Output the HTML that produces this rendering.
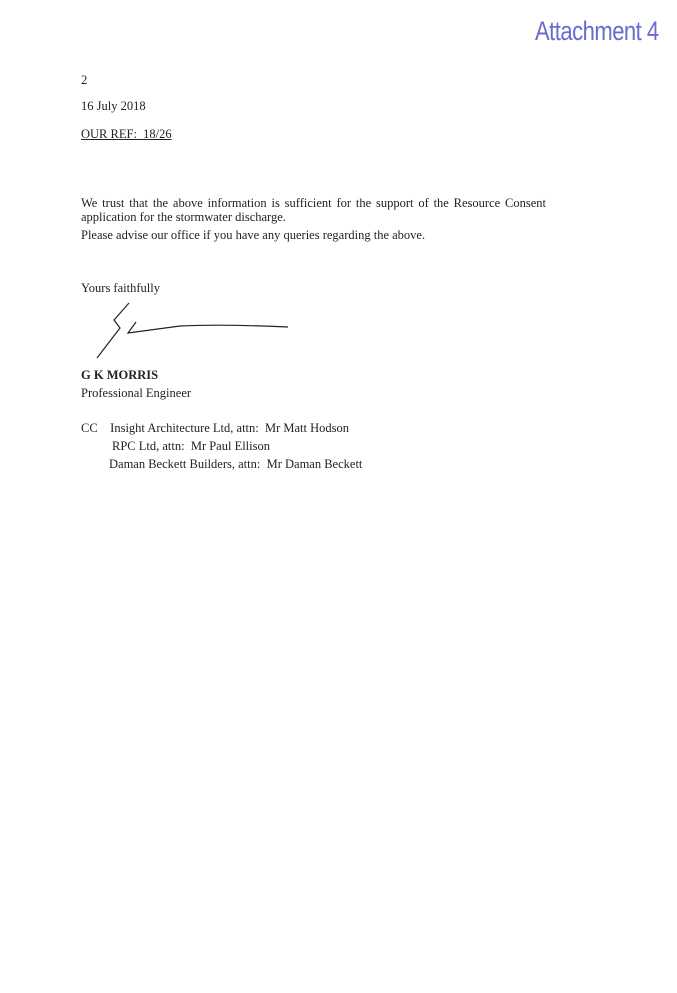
<!DOCTYPE html>
<html><head><meta charset="utf-8"><style>
body{margin:0;width:677px;height:993px;background:#fff;position:relative;overflow:hidden;font-family:"Liberation Serif",serif;font-size:12.5px;color:#222;}
.t{position:absolute;left:81px;line-height:14px;white-space:nowrap;}
</style></head><body>
<div style="position:absolute;left:535px;top:16px;font-family:'Liberation Sans',sans-serif;font-size:22px;color:#6a6ad0;letter-spacing:-0.5px;transform:scaleY(1.2);transform-origin:top left">Attachment 4</div>
<div class="t" style="top:73px">2</div>
<div class="t" style="top:99px">16 July 2018</div>
<div class="t" style="top:127px;text-decoration:underline">OUR REF:&nbsp; 18/26</div>
<div class="t" style="top:196px;width:465px;text-align:justify;text-align-last:justify;white-space:normal">We trust that the above information is sufficient for the support of the Resource Consent</div>
<div class="t" style="top:210px">application for the stormwater discharge.</div>
<div class="t" style="top:228px">Please advise our office if you have any queries regarding the above.</div>
<div class="t" style="top:281px">Yours faithfully</div>
<svg style="position:absolute;left:0;top:0" width="677" height="993"><path d="M129 303 L114 320 L120 328 L97 358 M136 322 L128 333 Q150 330 180 326 Q220 324 288 327" fill="none" stroke="#222" stroke-width="1.2"/></svg>
<div class="t" style="top:368px;font-weight:bold">G K MORRIS</div>
<div class="t" style="top:386px">Professional Engineer</div>
<div class="t" style="top:421px">CC&nbsp;&nbsp;&nbsp; Insight Architecture Ltd, attn:&nbsp; Mr Matt Hodson</div>
<div class="t" style="top:439px;left:112px">RPC Ltd, attn:&nbsp; Mr Paul Ellison</div>
<div class="t" style="top:457px;left:109px">Daman Beckett Builders, attn:&nbsp; Mr Daman Beckett</div>
</body></html>
